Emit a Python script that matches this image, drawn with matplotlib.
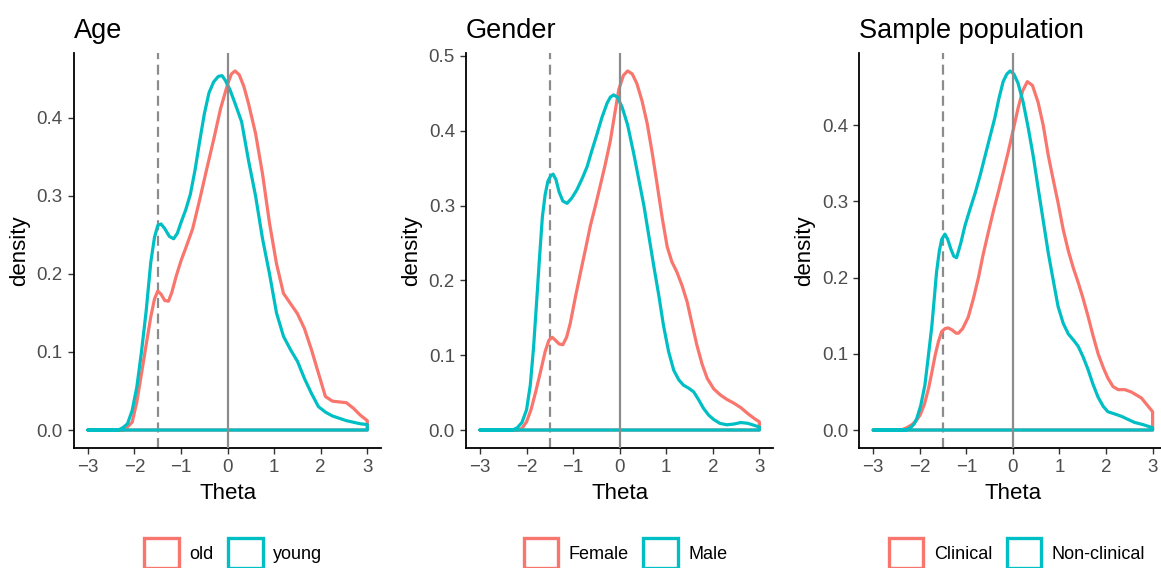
import matplotlib.pyplot as plt
from matplotlib.patches import Patch

plt.rcParams['font.family'] = ['Liberation Sans', 'DejaVu Sans']

RED = '#F8766D'
TEAL = '#00BFC4'

# Age
age_old_x = [-3.0, -2.25, -2.15, -2.05, -1.95, -1.85, -1.75, -1.65, -1.57, -1.5, -1.43, -1.35, -1.27, -1.2,
             -1.1, -1.0, -0.9, -0.75, -0.6, -0.45, -0.3, -0.15, 0.0, 0.08, 0.16, 0.25, 0.35, 0.45, 0.6, 0.75,
             0.9, 1.05, 1.2, 1.35, 1.5, 1.65, 1.8, 1.95, 2.1, 2.25, 2.4, 2.55, 2.7, 2.85, 3.0]
age_old_y = [0, 0, 0.004, 0.01, 0.036, 0.072, 0.109, 0.145, 0.168, 0.178, 0.174, 0.166, 0.165, 0.176,
             0.198, 0.217, 0.233, 0.258, 0.295, 0.334, 0.372, 0.412, 0.443, 0.456, 0.46, 0.455, 0.44, 0.418, 0.38,
             0.328, 0.265, 0.213, 0.175, 0.162, 0.149, 0.13, 0.103, 0.073, 0.043, 0.037, 0.036, 0.035, 0.028,
             0.019, 0.012]
age_young_x = [-3.0, -2.35, -2.25, -2.15, -2.05, -1.95, -1.85, -1.75, -1.65, -1.57, -1.5, -1.43, -1.35, -1.25,
               -1.16, -1.08, -1.0, -0.9, -0.8, -0.7, -0.6, -0.5, -0.4, -0.3, -0.2, -0.12, -0.05, 0.05, 0.15,
               0.3, 0.45, 0.6, 0.75, 0.9, 1.05, 1.2, 1.35, 1.5, 1.65, 1.8, 1.95, 2.1, 2.25, 2.4, 2.55, 2.7,
               2.85, 3.0]
age_young_y = [0, 0, 0.003, 0.008, 0.025, 0.055, 0.1, 0.152, 0.215, 0.247, 0.262, 0.264, 0.258, 0.248,
               0.245, 0.252, 0.266, 0.282, 0.302, 0.333, 0.37, 0.405, 0.432, 0.446, 0.453, 0.454, 0.448, 0.436,
               0.42, 0.395, 0.345, 0.3, 0.245, 0.2, 0.15, 0.12, 0.103, 0.088, 0.066, 0.047, 0.03, 0.023, 0.018,
               0.015, 0.012, 0.01, 0.008, 0.007]

# Gender
fem_x = [-3.0, -2.2, -2.1, -2.0, -1.9, -1.8, -1.7, -1.6, -1.52, -1.45, -1.38, -1.3, -1.22, -1.14, -1.06,
         -0.95, -0.84, -0.73, -0.63, -0.52, -0.42, -0.31, -0.2, -0.1, -0.02, 0.08, 0.17, 0.27, 0.37, 0.48,
         0.59, 0.7, 0.8, 0.91, 1.02, 1.12, 1.23, 1.34, 1.45, 1.55, 1.66, 1.77, 1.88, 2.02, 2.16, 2.3, 2.45,
         2.6, 2.75, 2.9, 3.0]
fem_y = [0, 0, 0.002, 0.011, 0.028, 0.052, 0.078, 0.105, 0.12, 0.124, 0.12, 0.115, 0.114, 0.124, 0.143,
         0.178, 0.211, 0.243, 0.273, 0.3, 0.326, 0.355, 0.387, 0.425, 0.455, 0.474, 0.48, 0.476, 0.463, 0.44,
         0.41, 0.37, 0.33, 0.285, 0.245, 0.225, 0.211, 0.193, 0.171, 0.143, 0.113, 0.088, 0.069, 0.055, 0.047,
         0.041, 0.036, 0.03, 0.022, 0.015, 0.011]
male_x = [-3.0, -2.3, -2.2, -2.1, -2.0, -1.92, -1.85, -1.78, -1.72, -1.66, -1.6, -1.54, -1.48, -1.43, -1.37,
          -1.3, -1.22, -1.13, -1.03, -0.92, -0.8, -0.7, -0.6, -0.49, -0.38, -0.27, -0.2, -0.13, -0.05, 0.05,
          0.17, 0.3, 0.41, 0.52, 0.63, 0.73, 0.84, 0.94, 1.05, 1.16, 1.27, 1.37, 1.48, 1.59, 1.7, 1.8, 1.91,
          2.02, 2.15, 2.3, 2.45, 2.6, 2.75, 2.9, 3.0]
male_y = [0, 0, 0.003, 0.01, 0.027, 0.06, 0.11, 0.175, 0.232, 0.285, 0.315, 0.333, 0.34, 0.342, 0.335,
          0.318, 0.306, 0.303, 0.31, 0.321, 0.337, 0.352, 0.373, 0.395, 0.418, 0.437, 0.445, 0.448, 0.445, 0.432,
          0.408, 0.37, 0.335, 0.3, 0.258, 0.22, 0.18, 0.14, 0.105, 0.08, 0.067, 0.06, 0.056, 0.051, 0.04,
          0.029, 0.02, 0.014, 0.009, 0.007, 0.008, 0.01, 0.009, 0.006, 0.004]

# Sample population
clin_x = [-3.0, -2.4, -2.28, -2.17, -2.08, -1.99, -1.9, -1.81, -1.74, -1.67, -1.6, -1.53, -1.46, -1.39, -1.3,
          -1.22, -1.17, -1.08, -0.96, -0.85, -0.74, -0.64, -0.53, -0.42, -0.31, -0.2, -0.1, 0.0, 0.11, 0.21,
          0.31, 0.42, 0.54, 0.65, 0.76, 0.86, 0.97, 1.08, 1.19, 1.3, 1.4, 1.5, 1.61, 1.72, 1.83, 1.94, 2.04,
          2.15, 2.26, 2.4, 2.54, 2.65, 2.76, 2.88, 3.0]
clin_y = [0, 0, 0.003, 0.007, 0.012, 0.02, 0.034, 0.055, 0.076, 0.098, 0.116, 0.129, 0.133, 0.134, 0.131,
          0.127, 0.127, 0.133, 0.148, 0.172, 0.2, 0.23, 0.259, 0.287, 0.313, 0.34, 0.365, 0.392, 0.422, 0.445,
          0.457, 0.452, 0.43, 0.4, 0.36, 0.33, 0.298, 0.263, 0.235, 0.212, 0.194, 0.174, 0.15, 0.124, 0.1,
          0.082, 0.068, 0.057, 0.053, 0.053, 0.05, 0.046, 0.042, 0.033, 0.024]
nonclin_x = [-3.0, -2.3, -2.2, -2.12, -2.06, -1.98, -1.89, -1.82, -1.74, -1.69, -1.64, -1.58, -1.53, -1.46,
             -1.4, -1.33, -1.27, -1.21, -1.12, -1.03, -0.92, -0.81, -0.7, -0.6, -0.5, -0.39, -0.3, -0.21, -0.13,
             -0.06, 0.02, 0.11, 0.22, 0.33, 0.44, 0.54, 0.65, 0.76, 0.87, 0.97, 1.08, 1.19, 1.3, 1.4, 1.5, 1.61,
             1.72, 1.83, 1.94, 2.04, 2.19, 2.33, 2.47, 2.61, 2.8, 3.0]
nonclin_y = [0, 0, 0.003, 0.008, 0.016, 0.032, 0.059, 0.095, 0.137, 0.172, 0.207, 0.235, 0.25, 0.257,
             0.25, 0.237, 0.228, 0.226, 0.245, 0.268, 0.29, 0.311, 0.335, 0.359, 0.383, 0.409, 0.435, 0.457, 0.467,
             0.471, 0.467, 0.455, 0.43, 0.396, 0.358, 0.318, 0.275, 0.232, 0.195, 0.162, 0.14, 0.126, 0.118,
             0.11, 0.097, 0.08, 0.06, 0.043, 0.031, 0.024, 0.021, 0.018, 0.014, 0.01, 0.007, 0.003]

titles = ['Age', 'Gender', 'Sample population']
labels = [['old', 'young'], ['Female', 'Male'], ['Clinical', 'Non-clinical']]
curves = [[(age_old_x, age_old_y), (age_young_x, age_young_y)],
          [(fem_x, fem_y), (male_x, male_y)],
          [(clin_x, clin_y), (nonclin_x, nonclin_y)]]
cutoff = -1.5
xticks = [-3, -2, -1, 0, 1, 2, 3]

fig = plt.figure(figsize=(11.61, 5.68), dpi=100)
lefts = [0.0637, 0.4014, 0.7401]
legend_x = [0.2011, 0.5388, 0.876]

for i in range(3):
    ax = fig.add_axes([lefts[i], 0.2113, 0.2647, 0.6954])
    ymax = 0
    for (x, y), col in zip(curves[i], [RED, TEAL]):
        ax.fill(x + [3.0], y + [0], facecolor='none', edgecolor=col, linewidth=2.3,
                joinstyle='round', zorder=3)
        ymax = max(ymax, max(y))
    ax.axvline(cutoff, color='#8c8c8c', linestyle=(0, (4.5, 2.5)), linewidth=1.6, zorder=2)
    ax.axvline(0, color='#8c8c8c', linewidth=1.6, zorder=4)
    top = 1.05 * ymax
    ax.set_xlim(-3.3, 3.3)
    ax.set_ylim(-0.05 * ymax, top)
    ax.set_xticks(xticks)
    ax.set_yticks([t / 10 for t in range(int(top * 10 + 1e-9) + 1)])
    ax.yaxis.set_major_formatter(plt.FormatStrFormatter('%.1f'))
    for s in ['top', 'right']:
        ax.spines[s].set_visible(False)
    for s in ['left', 'bottom']:
        ax.spines[s].set_linewidth(1.3)
    ax.tick_params(length=4, width=1, color='#333333', labelcolor='#4d4d4d', labelsize=13.5, pad=4)
    ax.set_xlabel('Theta', fontsize=16, labelpad=5)
    ax.set_ylabel('density', fontsize=16, labelpad=5)
    ax.set_title(titles[i], loc='left', fontsize=19.5, pad=11)
    handles = [Patch(facecolor='none', edgecolor=c, linewidth=2.4) for c in [RED, TEAL]]
    ax.legend(handles, labels[i], loc='upper center', bbox_to_anchor=(legend_x[i], 0.0528),
              bbox_transform=fig.transFigure, ncol=2, frameon=False, fontsize=13,
              handlelength=1.9, handleheight=2.2, handletextpad=0.6, columnspacing=0.8,
              borderpad=0, borderaxespad=0)

fig.savefig('out.png', dpi=100)
